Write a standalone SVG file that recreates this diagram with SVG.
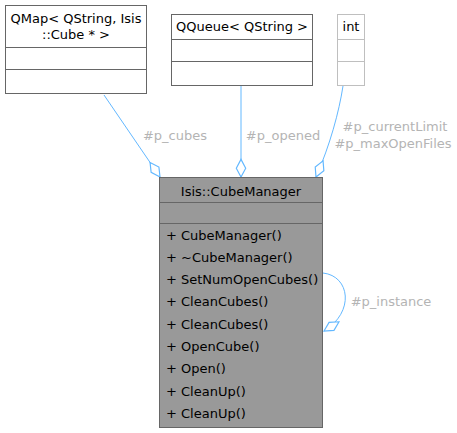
<svg xmlns="http://www.w3.org/2000/svg" width="457" height="433" viewBox="0 0 457 433">
<style>
text{font-family:"DejaVu Sans","Liberation Sans",sans-serif;font-size:13px;fill:#000}
.lbl{fill:#b4b4b4;text-anchor:middle}
.c{text-anchor:middle}
.box{fill:#fff;stroke:#666;stroke-width:1}
.gbox{fill:#fff;stroke:#bfbfbf;stroke-width:1}
.edge{fill:none;stroke:#63b8ff;stroke-width:1}
</style>
<defs>
<marker id="dia" markerUnits="userSpaceOnUse" markerWidth="20" markerHeight="12" refX="15" refY="5" viewBox="-1 0 17 10" orient="auto">
<path d="M0,5 L7.5,1 L15,5 L7.5,9 Z" fill="#fff" stroke="#63b8ff" stroke-width="1"/>
</marker>
</defs>
<rect width="457" height="433" fill="#fff"/>
<g id="connectors">
<path class="edge" d="M104,95 L160,177" marker-end="url(#dia)"/>
<path class="edge" d="M241,86 L241,177" marker-end="url(#dia)"/>
<path class="edge" d="M343,86 C339,112 330,145 316,177" marker-end="url(#dia)"/>
<path class="edge" d="M323,273 C350,276 355,312 324,331" marker-end="url(#dia)"/>
<text class="lbl" x="175" y="140">#p_cubes</text>
<text class="lbl" x="283" y="140">#p_opened</text>
<text class="lbl" x="395" y="131">#p_currentLimit</text>
<text class="lbl" x="393" y="148">#p_maxOpenFiles</text>
<text class="lbl" x="391" y="306">#p_instance</text>
</g>
<g id="qmap">
<rect class="box" x="5.5" y="5.5" width="141" height="88"/>
<line x1="5.5" y1="47.5" x2="146.5" y2="47.5" stroke="#666"/>
<line x1="5.5" y1="69.5" x2="146.5" y2="69.5" stroke="#666"/>
<text class="c" x="76" y="23">QMap&lt; QString, Isis</text>
<text class="c" x="76" y="39">::Cube * &gt;</text>
</g>
<g id="qqueue">
<rect class="box" x="171.5" y="14.5" width="141" height="71"/>
<line x1="171.5" y1="39.5" x2="312.5" y2="39.5" stroke="#666"/>
<line x1="171.5" y1="61.5" x2="312.5" y2="61.5" stroke="#666"/>
<text class="c" x="242" y="31">QQueue&lt; QString &gt;</text>
</g>
<g id="int">
<rect class="gbox" x="337.5" y="14.5" width="27" height="71"/>
<line x1="337.5" y1="39.5" x2="364.5" y2="39.5" stroke="#bfbfbf"/>
<line x1="337.5" y1="61.5" x2="364.5" y2="61.5" stroke="#bfbfbf"/>
<text class="c" x="351" y="31">int</text>
</g>
<g id="cubemanager">
<rect x="159.5" y="177.5" width="163" height="250" fill="#999" stroke="#666"/>
<line x1="159.5" y1="202.5" x2="322.5" y2="202.5" stroke="#666"/>
<line x1="159.5" y1="223.5" x2="322.5" y2="223.5" stroke="#666"/>
<text class="c" x="241" y="196">Isis::CubeManager</text>
<text x="166" y="240">+ CubeManager()</text>
<text x="166" y="262">+ ~CubeManager()</text>
<text x="166" y="284">+ SetNumOpenCubes()</text>
<text x="166" y="306">+ CleanCubes()</text>
<text x="166" y="329">+ CleanCubes()</text>
<text x="166" y="351">+ OpenCube()</text>
<text x="166" y="373">+ Open()</text>
<text x="166" y="396">+ CleanUp()</text>
<text x="166" y="418">+ CleanUp()</text>
</g>
</svg>
